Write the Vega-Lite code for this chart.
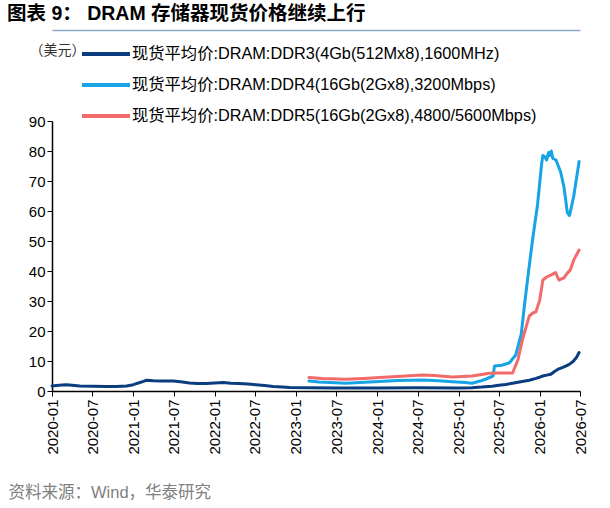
{
  "$schema": "https://vega.github.io/schema/vega-lite/v6.json",
  "width": 528,
  "height": 270,
  "autosize": {"type": "none"},
  "padding": {"left": 52, "top": 121, "right": 30, "bottom": 117},
  "background": "white",
  "config": {
    "font": "Liberation Sans, Noto Sans CJK SC",
    "view": {"stroke": null}
  },
  "title": {
    "text": "图表 9：  DRAM 存储器现货价格继续上行",
    "anchor": "start",
    "frame": "group",
    "dx": -45,
    "offset": 6,
    "fontSize": 19.5,
    "fontWeight": "bold",
    "color": "#000000",
    "font": "Liberation Sans, Noto Sans CJK SC"
  },
  "data": {
    "values": [
      {"s": "现货平均价:DRAM:DDR3(4Gb(512Mx8),1600MHz)", "d": "2020-01-01", "v": 1.7},
      {"s": "现货平均价:DRAM:DDR3(4Gb(512Mx8),1600MHz)", "d": "2020-02-01", "v": 1.9},
      {"s": "现货平均价:DRAM:DDR3(4Gb(512Mx8),1600MHz)", "d": "2020-03-05", "v": 2.1},
      {"s": "现货平均价:DRAM:DDR3(4Gb(512Mx8),1600MHz)", "d": "2020-04-01", "v": 1.9},
      {"s": "现货平均价:DRAM:DDR3(4Gb(512Mx8),1600MHz)", "d": "2020-05-05", "v": 1.7},
      {"s": "现货平均价:DRAM:DDR3(4Gb(512Mx8),1600MHz)", "d": "2020-07-01", "v": 1.6},
      {"s": "现货平均价:DRAM:DDR3(4Gb(512Mx8),1600MHz)", "d": "2020-09-01", "v": 1.5},
      {"s": "现货平均价:DRAM:DDR3(4Gb(512Mx8),1600MHz)", "d": "2020-10-15", "v": 1.5},
      {"s": "现货平均价:DRAM:DDR3(4Gb(512Mx8),1600MHz)", "d": "2020-12-01", "v": 1.7},
      {"s": "现货平均价:DRAM:DDR3(4Gb(512Mx8),1600MHz)", "d": "2021-01-01", "v": 2.1},
      {"s": "现货平均价:DRAM:DDR3(4Gb(512Mx8),1600MHz)", "d": "2021-01-20", "v": 2.6},
      {"s": "现货平均价:DRAM:DDR3(4Gb(512Mx8),1600MHz)", "d": "2021-02-15", "v": 3.2},
      {"s": "现货平均价:DRAM:DDR3(4Gb(512Mx8),1600MHz)", "d": "2021-03-01", "v": 3.6},
      {"s": "现货平均价:DRAM:DDR3(4Gb(512Mx8),1600MHz)", "d": "2021-04-01", "v": 3.4},
      {"s": "现货平均价:DRAM:DDR3(4Gb(512Mx8),1600MHz)", "d": "2021-05-01", "v": 3.3},
      {"s": "现货平均价:DRAM:DDR3(4Gb(512Mx8),1600MHz)", "d": "2021-06-28", "v": 3.3},
      {"s": "现货平均价:DRAM:DDR3(4Gb(512Mx8),1600MHz)", "d": "2021-08-01", "v": 3.1},
      {"s": "现货平均价:DRAM:DDR3(4Gb(512Mx8),1600MHz)", "d": "2021-09-10", "v": 2.7},
      {"s": "现货平均价:DRAM:DDR3(4Gb(512Mx8),1600MHz)", "d": "2021-10-15", "v": 2.5},
      {"s": "现货平均价:DRAM:DDR3(4Gb(512Mx8),1600MHz)", "d": "2021-11-25", "v": 2.5},
      {"s": "现货平均价:DRAM:DDR3(4Gb(512Mx8),1600MHz)", "d": "2022-01-01", "v": 2.7},
      {"s": "现货平均价:DRAM:DDR3(4Gb(512Mx8),1600MHz)", "d": "2022-02-08", "v": 2.8},
      {"s": "现货平均价:DRAM:DDR3(4Gb(512Mx8),1600MHz)", "d": "2022-03-15", "v": 2.6},
      {"s": "现货平均价:DRAM:DDR3(4Gb(512Mx8),1600MHz)", "d": "2022-04-20", "v": 2.5},
      {"s": "现货平均价:DRAM:DDR3(4Gb(512Mx8),1600MHz)", "d": "2022-06-01", "v": 2.3},
      {"s": "现货平均价:DRAM:DDR3(4Gb(512Mx8),1600MHz)", "d": "2022-07-05", "v": 2.1},
      {"s": "现货平均价:DRAM:DDR3(4Gb(512Mx8),1600MHz)", "d": "2022-08-15", "v": 1.8},
      {"s": "现货平均价:DRAM:DDR3(4Gb(512Mx8),1600MHz)", "d": "2022-09-20", "v": 1.5},
      {"s": "现货平均价:DRAM:DDR3(4Gb(512Mx8),1600MHz)", "d": "2022-11-01", "v": 1.3},
      {"s": "现货平均价:DRAM:DDR3(4Gb(512Mx8),1600MHz)", "d": "2022-12-03", "v": 1.2},
      {"s": "现货平均价:DRAM:DDR3(4Gb(512Mx8),1600MHz)", "d": "2023-03-01", "v": 1.1},
      {"s": "现货平均价:DRAM:DDR3(4Gb(512Mx8),1600MHz)", "d": "2023-07-01", "v": 1.0},
      {"s": "现货平均价:DRAM:DDR3(4Gb(512Mx8),1600MHz)", "d": "2024-01-01", "v": 1.0},
      {"s": "现货平均价:DRAM:DDR3(4Gb(512Mx8),1600MHz)", "d": "2024-07-01", "v": 1.1},
      {"s": "现货平均价:DRAM:DDR3(4Gb(512Mx8),1600MHz)", "d": "2025-01-01", "v": 1.0},
      {"s": "现货平均价:DRAM:DDR3(4Gb(512Mx8),1600MHz)", "d": "2025-03-01", "v": 1.1},
      {"s": "现货平均价:DRAM:DDR3(4Gb(512Mx8),1600MHz)", "d": "2025-04-15", "v": 1.3},
      {"s": "现货平均价:DRAM:DDR3(4Gb(512Mx8),1600MHz)", "d": "2025-06-01", "v": 1.6},
      {"s": "现货平均价:DRAM:DDR3(4Gb(512Mx8),1600MHz)", "d": "2025-07-01", "v": 1.9},
      {"s": "现货平均价:DRAM:DDR3(4Gb(512Mx8),1600MHz)", "d": "2025-08-01", "v": 2.2},
      {"s": "现货平均价:DRAM:DDR3(4Gb(512Mx8),1600MHz)", "d": "2025-09-01", "v": 2.6},
      {"s": "现货平均价:DRAM:DDR3(4Gb(512Mx8),1600MHz)", "d": "2025-10-01", "v": 3.0},
      {"s": "现货平均价:DRAM:DDR3(4Gb(512Mx8),1600MHz)", "d": "2025-11-15", "v": 3.6},
      {"s": "现货平均价:DRAM:DDR3(4Gb(512Mx8),1600MHz)", "d": "2025-12-15", "v": 4.2},
      {"s": "现货平均价:DRAM:DDR3(4Gb(512Mx8),1600MHz)", "d": "2026-01-01", "v": 4.6},
      {"s": "现货平均价:DRAM:DDR3(4Gb(512Mx8),1600MHz)", "d": "2026-01-15", "v": 5.0},
      {"s": "现货平均价:DRAM:DDR3(4Gb(512Mx8),1600MHz)", "d": "2026-02-01", "v": 5.3},
      {"s": "现货平均价:DRAM:DDR3(4Gb(512Mx8),1600MHz)", "d": "2026-02-20", "v": 5.6},
      {"s": "现货平均价:DRAM:DDR3(4Gb(512Mx8),1600MHz)", "d": "2026-03-10", "v": 6.6},
      {"s": "现货平均价:DRAM:DDR3(4Gb(512Mx8),1600MHz)", "d": "2026-03-28", "v": 7.4},
      {"s": "现货平均价:DRAM:DDR3(4Gb(512Mx8),1600MHz)", "d": "2026-04-15", "v": 7.9},
      {"s": "现货平均价:DRAM:DDR3(4Gb(512Mx8),1600MHz)", "d": "2026-05-12", "v": 8.8},
      {"s": "现货平均价:DRAM:DDR3(4Gb(512Mx8),1600MHz)", "d": "2026-06-01", "v": 9.9},
      {"s": "现货平均价:DRAM:DDR3(4Gb(512Mx8),1600MHz)", "d": "2026-06-15", "v": 11.2},
      {"s": "现货平均价:DRAM:DDR3(4Gb(512Mx8),1600MHz)", "d": "2026-06-27", "v": 12.8},
      {"s": "现货平均价:DRAM:DDR4(16Gb(2Gx8),3200Mbps)", "d": "2023-03-01", "v": 3.3},
      {"s": "现货平均价:DRAM:DDR4(16Gb(2Gx8),3200Mbps)", "d": "2023-04-15", "v": 3.0},
      {"s": "现货平均价:DRAM:DDR4(16Gb(2Gx8),3200Mbps)", "d": "2023-06-01", "v": 2.8},
      {"s": "现货平均价:DRAM:DDR4(16Gb(2Gx8),3200Mbps)", "d": "2023-08-15", "v": 2.6},
      {"s": "现货平均价:DRAM:DDR4(16Gb(2Gx8),3200Mbps)", "d": "2023-10-15", "v": 2.8},
      {"s": "现货平均价:DRAM:DDR4(16Gb(2Gx8),3200Mbps)", "d": "2024-01-12", "v": 3.2},
      {"s": "现货平均价:DRAM:DDR4(16Gb(2Gx8),3200Mbps)", "d": "2024-04-01", "v": 3.5},
      {"s": "现货平均价:DRAM:DDR4(16Gb(2Gx8),3200Mbps)", "d": "2024-07-20", "v": 3.7},
      {"s": "现货平均价:DRAM:DDR4(16Gb(2Gx8),3200Mbps)", "d": "2024-09-15", "v": 3.5},
      {"s": "现货平均价:DRAM:DDR4(16Gb(2Gx8),3200Mbps)", "d": "2024-12-04", "v": 3.1},
      {"s": "现货平均价:DRAM:DDR4(16Gb(2Gx8),3200Mbps)", "d": "2025-02-01", "v": 2.8},
      {"s": "现货平均价:DRAM:DDR4(16Gb(2Gx8),3200Mbps)", "d": "2025-03-03", "v": 2.6},
      {"s": "现货平均价:DRAM:DDR4(16Gb(2Gx8),3200Mbps)", "d": "2025-04-12", "v": 3.4},
      {"s": "现货平均价:DRAM:DDR4(16Gb(2Gx8),3200Mbps)", "d": "2025-05-05", "v": 4.0},
      {"s": "现货平均价:DRAM:DDR4(16Gb(2Gx8),3200Mbps)", "d": "2025-06-05", "v": 5.0},
      {"s": "现货平均价:DRAM:DDR4(16Gb(2Gx8),3200Mbps)", "d": "2025-06-12", "v": 8.3},
      {"s": "现货平均价:DRAM:DDR4(16Gb(2Gx8),3200Mbps)", "d": "2025-07-15", "v": 8.6},
      {"s": "现货平均价:DRAM:DDR4(16Gb(2Gx8),3200Mbps)", "d": "2025-08-18", "v": 9.4},
      {"s": "现货平均价:DRAM:DDR4(16Gb(2Gx8),3200Mbps)", "d": "2025-09-15", "v": 12.0},
      {"s": "现货平均价:DRAM:DDR4(16Gb(2Gx8),3200Mbps)", "d": "2025-10-10", "v": 19.0},
      {"s": "现货平均价:DRAM:DDR4(16Gb(2Gx8),3200Mbps)", "d": "2025-10-25", "v": 29.0},
      {"s": "现货平均价:DRAM:DDR4(16Gb(2Gx8),3200Mbps)", "d": "2025-11-12", "v": 40.0},
      {"s": "现货平均价:DRAM:DDR4(16Gb(2Gx8),3200Mbps)", "d": "2025-12-01", "v": 51.0},
      {"s": "现货平均价:DRAM:DDR4(16Gb(2Gx8),3200Mbps)", "d": "2025-12-22", "v": 62.0},
      {"s": "现货平均价:DRAM:DDR4(16Gb(2Gx8),3200Mbps)", "d": "2026-01-10", "v": 76.0},
      {"s": "现货平均价:DRAM:DDR4(16Gb(2Gx8),3200Mbps)", "d": "2026-01-15", "v": 78.5},
      {"s": "现货平均价:DRAM:DDR4(16Gb(2Gx8),3200Mbps)", "d": "2026-01-25", "v": 78.0},
      {"s": "现货平均价:DRAM:DDR4(16Gb(2Gx8),3200Mbps)", "d": "2026-02-01", "v": 77.0},
      {"s": "现货平均价:DRAM:DDR4(16Gb(2Gx8),3200Mbps)", "d": "2026-02-10", "v": 79.5},
      {"s": "现货平均价:DRAM:DDR4(16Gb(2Gx8),3200Mbps)", "d": "2026-02-15", "v": 78.5},
      {"s": "现货平均价:DRAM:DDR4(16Gb(2Gx8),3200Mbps)", "d": "2026-02-22", "v": 80.0},
      {"s": "现货平均价:DRAM:DDR4(16Gb(2Gx8),3200Mbps)", "d": "2026-03-01", "v": 77.5},
      {"s": "现货平均价:DRAM:DDR4(16Gb(2Gx8),3200Mbps)", "d": "2026-03-15", "v": 77.0},
      {"s": "现货平均价:DRAM:DDR4(16Gb(2Gx8),3200Mbps)", "d": "2026-04-05", "v": 73.0},
      {"s": "现货平均价:DRAM:DDR4(16Gb(2Gx8),3200Mbps)", "d": "2026-04-20", "v": 68.0},
      {"s": "现货平均价:DRAM:DDR4(16Gb(2Gx8),3200Mbps)", "d": "2026-05-05", "v": 59.5},
      {"s": "现货平均价:DRAM:DDR4(16Gb(2Gx8),3200Mbps)", "d": "2026-05-15", "v": 58.5},
      {"s": "现货平均价:DRAM:DDR4(16Gb(2Gx8),3200Mbps)", "d": "2026-06-03", "v": 65.0},
      {"s": "现货平均价:DRAM:DDR4(16Gb(2Gx8),3200Mbps)", "d": "2026-06-27", "v": 76.5},
      {"s": "现货平均价:DRAM:DDR5(16Gb(2Gx8),4800/5600Mbps)", "d": "2023-03-01", "v": 4.5},
      {"s": "现货平均价:DRAM:DDR5(16Gb(2Gx8),4800/5600Mbps)", "d": "2023-05-01", "v": 4.2},
      {"s": "现货平均价:DRAM:DDR5(16Gb(2Gx8),4800/5600Mbps)", "d": "2023-08-15", "v": 3.9},
      {"s": "现货平均价:DRAM:DDR5(16Gb(2Gx8),4800/5600Mbps)", "d": "2023-11-01", "v": 4.2},
      {"s": "现货平均价:DRAM:DDR5(16Gb(2Gx8),4800/5600Mbps)", "d": "2024-01-12", "v": 4.5},
      {"s": "现货平均价:DRAM:DDR5(16Gb(2Gx8),4800/5600Mbps)", "d": "2024-04-01", "v": 4.8},
      {"s": "现货平均价:DRAM:DDR5(16Gb(2Gx8),4800/5600Mbps)", "d": "2024-07-20", "v": 5.3},
      {"s": "现货平均价:DRAM:DDR5(16Gb(2Gx8),4800/5600Mbps)", "d": "2024-09-15", "v": 5.2},
      {"s": "现货平均价:DRAM:DDR5(16Gb(2Gx8),4800/5600Mbps)", "d": "2024-12-04", "v": 4.7},
      {"s": "现货平均价:DRAM:DDR5(16Gb(2Gx8),4800/5600Mbps)", "d": "2025-03-03", "v": 5.0},
      {"s": "现货平均价:DRAM:DDR5(16Gb(2Gx8),4800/5600Mbps)", "d": "2025-05-20", "v": 5.9},
      {"s": "现货平均价:DRAM:DDR5(16Gb(2Gx8),4800/5600Mbps)", "d": "2025-07-01", "v": 6.0},
      {"s": "现货平均价:DRAM:DDR5(16Gb(2Gx8),4800/5600Mbps)", "d": "2025-09-01", "v": 6.0},
      {"s": "现货平均价:DRAM:DDR5(16Gb(2Gx8),4800/5600Mbps)", "d": "2025-09-25", "v": 10.4},
      {"s": "现货平均价:DRAM:DDR5(16Gb(2Gx8),4800/5600Mbps)", "d": "2025-10-15", "v": 17.0},
      {"s": "现货平均价:DRAM:DDR5(16Gb(2Gx8),4800/5600Mbps)", "d": "2025-11-01", "v": 21.4},
      {"s": "现货平均价:DRAM:DDR5(16Gb(2Gx8),4800/5600Mbps)", "d": "2025-11-15", "v": 25.0},
      {"s": "现货平均价:DRAM:DDR5(16Gb(2Gx8),4800/5600Mbps)", "d": "2025-12-01", "v": 26.0},
      {"s": "现货平均价:DRAM:DDR5(16Gb(2Gx8),4800/5600Mbps)", "d": "2025-12-15", "v": 26.4},
      {"s": "现货平均价:DRAM:DDR5(16Gb(2Gx8),4800/5600Mbps)", "d": "2026-01-01", "v": 30.3},
      {"s": "现货平均价:DRAM:DDR5(16Gb(2Gx8),4800/5600Mbps)", "d": "2026-01-15", "v": 37.0},
      {"s": "现货平均价:DRAM:DDR5(16Gb(2Gx8),4800/5600Mbps)", "d": "2026-02-01", "v": 38.0},
      {"s": "现货平均价:DRAM:DDR5(16Gb(2Gx8),4800/5600Mbps)", "d": "2026-02-22", "v": 38.7},
      {"s": "现货平均价:DRAM:DDR5(16Gb(2Gx8),4800/5600Mbps)", "d": "2026-03-13", "v": 39.5},
      {"s": "现货平均价:DRAM:DDR5(16Gb(2Gx8),4800/5600Mbps)", "d": "2026-03-28", "v": 37.0},
      {"s": "现货平均价:DRAM:DDR5(16Gb(2Gx8),4800/5600Mbps)", "d": "2026-04-20", "v": 37.7},
      {"s": "现货平均价:DRAM:DDR5(16Gb(2Gx8),4800/5600Mbps)", "d": "2026-05-05", "v": 39.3},
      {"s": "现货平均价:DRAM:DDR5(16Gb(2Gx8),4800/5600Mbps)", "d": "2026-05-18", "v": 40.3},
      {"s": "现货平均价:DRAM:DDR5(16Gb(2Gx8),4800/5600Mbps)", "d": "2026-06-03", "v": 43.7},
      {"s": "现货平均价:DRAM:DDR5(16Gb(2Gx8),4800/5600Mbps)", "d": "2026-06-27", "v": 47.0}
    ]
  },
  "encoding": {
    "x": {
      "field": "d",
      "type": "temporal",
      "scale": {
        "type": "utc",
        "domain": [
          {"year": 2020, "month": 1, "date": 1, "utc": true},
          {"year": 2026, "month": 7, "date": 1, "utc": true}
        ]
      }
    },
    "y": {
      "field": "v",
      "type": "quantitative",
      "scale": {"domain": [0, 90], "nice": false},
      "axis": {
        "values": [0, 10, 20, 30, 40, 50, 60, 70, 80, 90],
        "labelFontSize": 15,
        "labelColor": "#000000",
        "labelPadding": 2,
        "tickColor": "#000000",
        "tickSize": 5,
        "domainColor": "#000000",
        "domainWidth": 1.5,
        "grid": false,
        "title": "（美元）",
        "titleAngle": 0,
        "titleFontSize": 14,
        "titleFontWeight": "normal",
        "titleColor": "#333333",
        "titleAlign": "left",
        "titleBaseline": "middle",
        "titleX": -23,
        "titleY": -71
      }
    }
  },
  "layer": [
    {
      "mark": {"type": "line", "strokeWidth": 3, "strokeJoin": "round", "strokeCap": "round"},
      "encoding": {
        "x": {
          "field": "d",
          "type": "temporal",
          "axis": {
            "orient": "bottom",
            "values": [
              {"year": 2020, "month": 1, "date": 1, "utc": true},
              {"year": 2020, "month": 7, "date": 1, "utc": true},
              {"year": 2021, "month": 1, "date": 1, "utc": true},
              {"year": 2021, "month": 7, "date": 1, "utc": true},
              {"year": 2022, "month": 1, "date": 1, "utc": true},
              {"year": 2022, "month": 7, "date": 1, "utc": true},
              {"year": 2023, "month": 1, "date": 1, "utc": true},
              {"year": 2023, "month": 7, "date": 1, "utc": true},
              {"year": 2024, "month": 1, "date": 1, "utc": true},
              {"year": 2024, "month": 7, "date": 1, "utc": true},
              {"year": 2025, "month": 1, "date": 1, "utc": true},
              {"year": 2025, "month": 7, "date": 1, "utc": true},
              {"year": 2026, "month": 1, "date": 1, "utc": true},
              {"year": 2026, "month": 7, "date": 1, "utc": true}
            ],
            "format": "%Y-%m",
            "labelAngle": -90,
            "labelFontSize": 15,
            "labelColor": "#000000",
            "labelPadding": 3,
            "tickColor": "#000000",
            "tickSize": 5,
            "domainColor": "#000000",
            "domainWidth": 1.5,
            "grid": false,
            "title": "资料来源：Wind，华泰研究",
            "titleFontSize": 16.5,
            "titleFontWeight": "normal",
            "titleColor": "#808080",
            "titleAlign": "left",
            "titleBaseline": "middle",
            "titleX": -44,
            "titleY": 101
          }
        },
        "color": {
          "field": "s",
          "type": "nominal",
          "scale": {"range": ["#0a3d80", "#16a4e6", "#f26b6b"]},
          "legend": {
            "title": null,
            "orient": "none",
            "legendX": 44,
            "legendY": -77,
            "direction": "vertical",
            "symbolType": "M-3,0H3",
            "symbolSize": 256,
            "symbolStrokeWidth": 4,
            "labelFontSize": 16.3,
            "labelColor": "#000000",
            "labelOffset": 16,
            "labelLimit": 500,
            "rowPadding": 12
          }
        }
      }
    },
    {
      "mark": {"type": "line", "opacity": 0},
      "encoding": {
        "x": {
          "field": "d",
          "type": "temporal",
          "axis": {
            "orient": "top",
            "offset": 91,
            "domain": true,
            "domainColor": "#8ea6c8",
            "domainWidth": 1.5,
            "domainOpacity": 1,
            "labels": false,
            "ticks": false,
            "grid": false,
            "title": null
          }
        },
        "detail": {"field": "s"}
      }
    }
  ],
  "resolve": {"axis": {"x": "independent"}}
}
